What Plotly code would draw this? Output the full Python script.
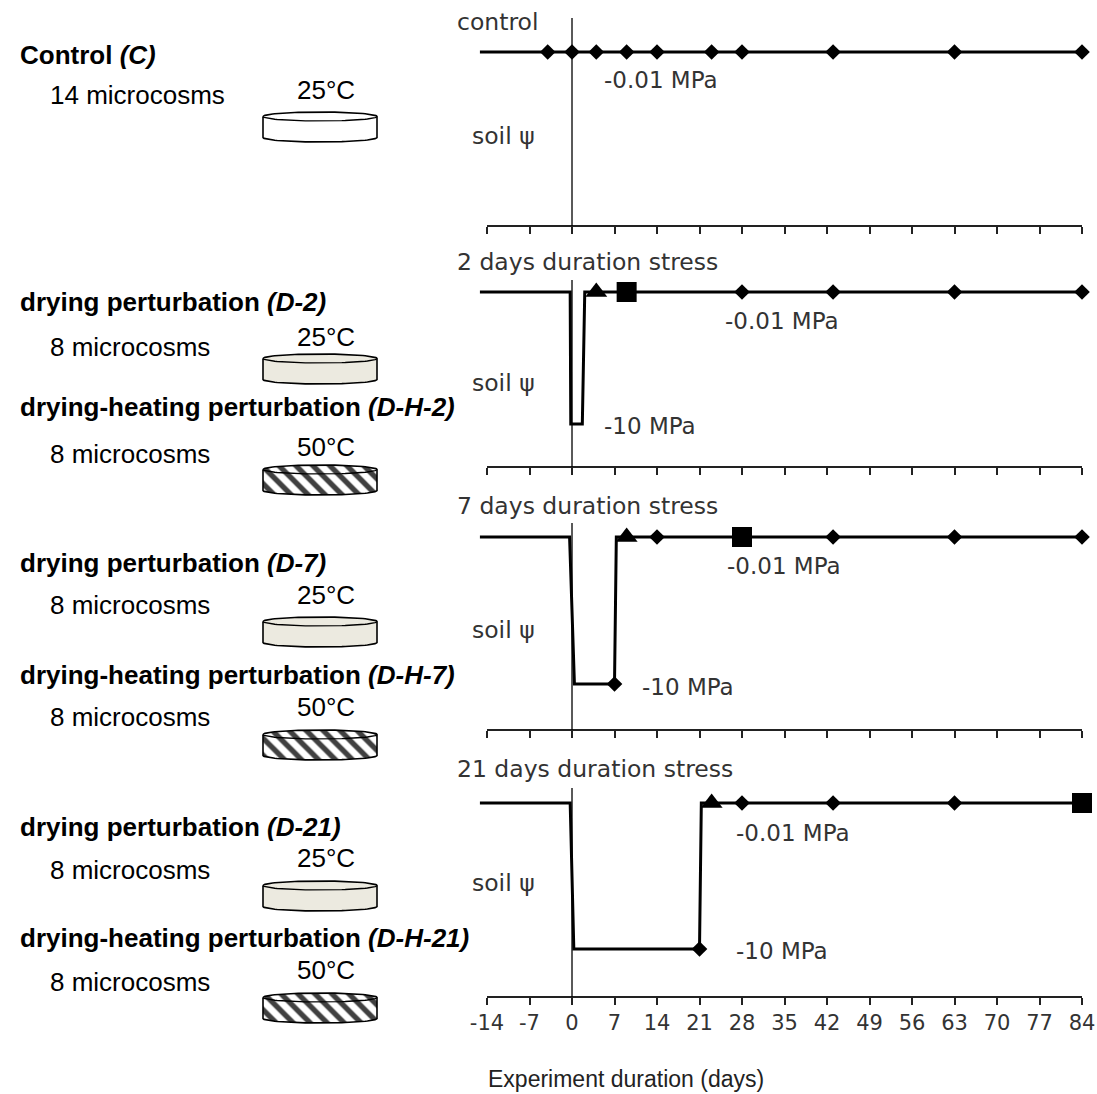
import math
import plotly.graph_objects as go

W, H = 1097, 1094

# ------------------------------------------------------------------ data
TICK_DAYS = [-14, -7, 0, 7, 14, 21, 28, 35, 42, 49, 56, 63, 70, 77, 84]
PSI_WET = -0.01    # MPa
PSI_DRY = -10.0    # MPa
STRESS_START = 0   # day when the stress begins
LINE_START = -15.2 # the psi line begins slightly left of the first tick

PANEL_TITLES = ["control", "2 days duration stress",
                "7 days duration stress", "21 days duration stress"]
LEVEL_LABELS = ["-0.01 MPa", "-10 MPa"]
Y_LABEL = "soil ψ"
X_TITLE = "Experiment duration (days)"

# control
C_LINE_DAYS = [-15.2, 84]
C_LINE_PSI = [-0.01, -0.01]
C_DIAMOND_DAYS = [-4, 0, 4, 9, 14, 23, 28, 43, 63, 84]
C_DIAMOND_PSI = [-0.01, -0.01, -0.01, -0.01, -0.01, -0.01, -0.01, -0.01, -0.01, -0.01]

# 2 days stress
D2_LINE_DAYS = [-15.2, -0.3, -0.2, 1.7, 2.1, 84]
D2_LINE_PSI = [-0.01, -0.01, -10, -10, -0.01, -0.01]
D2_DIAMOND_DAYS = [28, 43, 63, 84]
D2_DIAMOND_PSI = [-0.01, -0.01, -0.01, -0.01]
D2_TRIANGLE_DAYS = [4]
D2_TRIANGLE_PSI = [-0.01]
D2_SQUARE_DAYS = [9]
D2_SQUARE_PSI = [-0.01]

# 7 days stress
D7_LINE_DAYS = [-15.2, -0.4, 0.4, 7, 7.3, 84]
D7_LINE_PSI = [-0.01, -0.01, -10, -10, -0.01, -0.01]
D7_DIAMOND_DAYS = [7, 14, 43, 63, 84]
D7_DIAMOND_PSI = [-10, -0.01, -0.01, -0.01, -0.01]
D7_TRIANGLE_DAYS = [9]
D7_TRIANGLE_PSI = [-0.01]
D7_SQUARE_DAYS = [28]
D7_SQUARE_PSI = [-0.01]

# 21 days stress
D21_LINE_DAYS = [-15.2, -0.3, 0.3, 21, 21.3, 84]
D21_LINE_PSI = [-0.01, -0.01, -10, -10, -0.01, -0.01]
D21_DIAMOND_DAYS = [21, 28, 43, 63]
D21_DIAMOND_PSI = [-10, -0.01, -0.01, -0.01]
D21_TRIANGLE_DAYS = [23]
D21_TRIANGLE_PSI = [-0.01]
D21_SQUARE_DAYS = [84]
D21_SQUARE_PSI = [-0.01]

# treatments (left-hand legend)
GROUP_NAMES = ["Control", "drying perturbation", "drying-heating perturbation",
               "drying perturbation", "drying-heating perturbation",
               "drying perturbation", "drying-heating perturbation"]
GROUP_CODES = ["C", "D-2", "D-H-2", "D-7", "D-H-7", "D-21", "D-H-21"]
GROUP_MICROCOSMS = [14, 8, 8, 8, 8, 8, 8]
GROUP_TEMPS = [25, 25, 50, 25, 50, 25, 50]

# ------------------------------------------------------------------ layout constants (pixels)
RIGHT_FONT = "DejaVu Sans"
LEFT_FONT = "Liberation Sans"
TXT = "#333333"

TICK0_PX, TICKN_PX = 487, 1082          # pixel of first / last tick
PANEL_TOP_PX = [52, 292, 537, 803]      # line at -0.01 MPa
PANEL_BOT_PX = [None, 424, 684, 949]    # line at -10 MPa
PANEL_AXIS_PX = [226, 467, 730, 997]
PANEL_DTOP_PX = [18, 280, 523, 788]
TITLE_Y_PX = [22, 262, 506, 769]
SOILPSI_Y_PX = [136, 383, 630, 883]
WET_LABEL_POS = [(4.9, 28), (24.9, 29), (25.2, 29), (26.7, 30)]   # (day, px below line)
DRY_LABEL_POS = [None, (4.9, 2), (11.2, 3), (26.7, 2)]

HEAD_Y_PX = [55, 302, 407, 563, 675, 827, 938]
MICRO_Y_PX = [95, 347, 454, 605, 717, 870, 982]
TEMP_Y_PX = [90, 337, 447, 595, 707, 858, 970]
DISC_TOP_PX = [112, 354, 465, 617, 730, 881, 993]
DISC_H = 30
DISC_CX, DISC_RX, DISC_RY = 320, 57, 4.5


def pxx(x):
    return x / W


def pxy(y):
    return 1 - y / H


px_per_day = (TICKN_PX - TICK0_PX) / (TICK_DAYS[-1] - TICK_DAYS[0])
x_left_px = TICK0_PX - (TICK_DAYS[0] - LINE_START) * px_per_day
X_DOMAIN = [pxx(x_left_px), pxx(TICKN_PX)]
X_RANGE = [LINE_START, TICK_DAYS[-1]]

fig = go.Figure()

panels = [
    dict(line=(C_LINE_DAYS, C_LINE_PSI), dia=(C_DIAMOND_DAYS, C_DIAMOND_PSI), tri=None, sq=None),
    dict(line=(D2_LINE_DAYS, D2_LINE_PSI), dia=(D2_DIAMOND_DAYS, D2_DIAMOND_PSI),
         tri=(D2_TRIANGLE_DAYS, D2_TRIANGLE_PSI), sq=(D2_SQUARE_DAYS, D2_SQUARE_PSI)),
    dict(line=(D7_LINE_DAYS, D7_LINE_PSI), dia=(D7_DIAMOND_DAYS, D7_DIAMOND_PSI),
         tri=(D7_TRIANGLE_DAYS, D7_TRIANGLE_PSI), sq=(D7_SQUARE_DAYS, D7_SQUARE_PSI)),
    dict(line=(D21_LINE_DAYS, D21_LINE_PSI), dia=(D21_DIAMOND_DAYS, D21_DIAMOND_PSI),
         tri=(D21_TRIANGLE_DAYS, D21_TRIANGLE_PSI), sq=(D21_SQUARE_DAYS, D21_SQUARE_PSI)),
]

scale_ref = (PANEL_BOT_PX[1] - PANEL_TOP_PX[1]) / (PSI_WET - PSI_DRY)
annotations = []
shapes = []

for i, p in enumerate(panels):
    n = i + 1
    xa = "x" if n == 1 else f"x{n}"
    ya = "y" if n == 1 else f"y{n}"
    top, bot, ax_px, dtop = PANEL_TOP_PX[i], PANEL_BOT_PX[i], PANEL_AXIS_PX[i], PANEL_DTOP_PX[i]
    s = scale_ref if bot is None else (bot - top) / (PSI_WET - PSI_DRY)
    ymax = PSI_WET + (top - dtop) / s
    ymin = PSI_WET - (ax_px - top) / s

    fig.add_trace(go.Scatter(x=p["line"][0], y=p["line"][1], mode="lines",
                             line=dict(color="black", width=3), xaxis=xa, yaxis=ya,
                             showlegend=False, hoverinfo="skip"))
    fig.add_trace(go.Scatter(x=p["dia"][0], y=p["dia"][1], mode="markers",
                             marker=dict(symbol="diamond", size=12, color="black"),
                             xaxis=xa, yaxis=ya, showlegend=False, cliponaxis=False))
    if p["tri"]:
        fig.add_trace(go.Scatter(x=p["tri"][0], y=p["tri"][1], mode="markers",
                                 marker=dict(symbol="triangle-up", size=19, color="black"),
                                 xaxis=xa, yaxis=ya, showlegend=False, cliponaxis=False))
    if p["sq"]:
        fig.add_trace(go.Scatter(x=p["sq"][0], y=p["sq"][1], mode="markers",
                                 marker=dict(symbol="square", size=20, color="black"),
                                 xaxis=xa, yaxis=ya, showlegend=False, cliponaxis=False))

    xkey = "xaxis" if n == 1 else f"xaxis{n}"
    ykey = "yaxis" if n == 1 else f"yaxis{n}"
    fig.layout[xkey] = dict(domain=X_DOMAIN, range=X_RANGE,
                            anchor=ya, tickmode="array", tickvals=TICK_DAYS,
                            ticktext=[str(t) for t in TICK_DAYS],
                            showticklabels=(n == 4), ticks="outside", ticklen=7, tickwidth=1.5,
                            tickcolor="#222", showline=False,
                            showgrid=False, zeroline=False, automargin=False,
                            tickfont=dict(family=RIGHT_FONT, size=21, color=TXT), fixedrange=True)
    fig.layout[ykey] = dict(domain=[pxy(ax_px), pxy(dtop)], range=[ymin, ymax], anchor=xa,
                            visible=False, fixedrange=True, automargin=False)

    # time axis line from the first to the last tick
    shapes.append(dict(type="line", xref=xa, yref=f"{ya} domain", x0=TICK_DAYS[0], x1=TICK_DAYS[-1],
                       y0=0, y1=0, line=dict(color="#222", width=2)))
    # vertical line at start of stress
    shapes.append(dict(type="line", xref=xa, yref=f"{ya} domain", x0=STRESS_START, x1=STRESS_START,
                       y0=0, y1=1, line=dict(color="black", width=1.3)))

    annotations.append(dict(text=PANEL_TITLES[i], xref="paper", yref="paper", x=pxx(455),
                            y=pxy(TITLE_Y_PX[i]), xanchor="left", yanchor="middle", showarrow=False,
                            font=dict(family=RIGHT_FONT, size=23.5, color=TXT)))
    annotations.append(dict(text=Y_LABEL, xref="paper", yref="paper", x=pxx(470),
                            y=pxy(SOILPSI_Y_PX[i]), xanchor="left", yanchor="middle", showarrow=False,
                            font=dict(family=RIGHT_FONT, size=23.5, color=TXT)))
    wd, wsh = WET_LABEL_POS[i]
    annotations.append(dict(text=LEVEL_LABELS[0], xref=xa, yref=ya, x=wd, y=PSI_WET, yshift=-wsh,
                            xanchor="left", yanchor="middle", showarrow=False,
                            font=dict(family=RIGHT_FONT, size=23, color=TXT)))
    if DRY_LABEL_POS[i]:
        dd, dsh = DRY_LABEL_POS[i]
        annotations.append(dict(text=LEVEL_LABELS[1], xref=xa, yref=ya, x=dd, y=PSI_DRY, yshift=-dsh,
                                xanchor="left", yanchor="middle", showarrow=False,
                                font=dict(family=RIGHT_FONT, size=23, color=TXT)))

annotations.append(dict(text=X_TITLE, xref="paper", yref="paper", x=pxx(486), y=pxy(1079),
                        xanchor="left", yanchor="middle", showarrow=False,
                        font=dict(family=LEFT_FONT, size=23, color="#222")))

# ------------------------------------------------------------------ left legend
fig.layout["xaxis5"] = dict(domain=[0, 1], range=[0, W], anchor="y5", visible=False,
                            fixedrange=True, automargin=False)
fig.layout["yaxis5"] = dict(domain=[0, 1], range=[H, 0], anchor="x5", visible=False,
                            fixedrange=True, automargin=False)


def cylinder(top, bottom, n=48):
    ty, by = top + DISC_RY, bottom - DISC_RY
    xs, ys = [], []
    for k in range(n + 1):
        t = math.pi - math.pi * k / n
        xs.append(DISC_CX + DISC_RX * math.cos(t))
        ys.append(ty - DISC_RY * math.sin(t))
    for k in range(n + 1):
        t = math.pi * k / n
        xs.append(DISC_CX + DISC_RX * math.cos(t))
        ys.append(by + DISC_RY * math.sin(t))
    xs.append(xs[0])
    ys.append(ys[0])
    rim_x, rim_y = [], []
    for k in range(n + 1):
        t = math.pi * k / n
        rim_x.append(DISC_CX + DISC_RX * math.cos(t))
        rim_y.append(ty + DISC_RY * math.sin(t))
    return xs, ys, rim_x, rim_y


for g in range(len(GROUP_NAMES)):
    annotations.append(dict(text=f"<b>{GROUP_NAMES[g]} <i>({GROUP_CODES[g]})</i></b>",
                            xref="paper", yref="paper", x=pxx(18), y=pxy(HEAD_Y_PX[g]),
                            xanchor="left", yanchor="middle", showarrow=False,
                            font=dict(family=LEFT_FONT, size=26, color="black")))
    annotations.append(dict(text=f"{GROUP_MICROCOSMS[g]} microcosms",
                            xref="paper", yref="paper", x=pxx(48), y=pxy(MICRO_Y_PX[g]),
                            xanchor="left", yanchor="middle", showarrow=False,
                            font=dict(family=LEFT_FONT, size=26, color="black")))
    annotations.append(dict(text=f"{GROUP_TEMPS[g]}°C",
                            xref="paper", yref="paper", x=pxx(326), y=pxy(TEMP_Y_PX[g]),
                            xanchor="center", yanchor="middle", showarrow=False,
                            font=dict(family=LEFT_FONT, size=26, color="black")))
    xs, ys, rx_, ry_ = cylinder(DISC_TOP_PX[g], DISC_TOP_PX[g] + DISC_H)
    if g == 0:
        fill = dict(fillcolor="white")
    elif GROUP_TEMPS[g] == 25:
        fill = dict(fillcolor="#ECEAE0")
    else:
        fill = dict(fillcolor="white",
                    fillpattern=dict(shape="\\", fgcolor="#404040", bgcolor="white",
                                     fgopacity=1, size=12, solidity=0.45))
    fig.add_trace(go.Scatter(x=xs, y=ys, mode="lines", fill="toself",
                             line=dict(color="black", width=1.6), xaxis="x5", yaxis="y5",
                             showlegend=False, hoverinfo="skip", **fill))
    fig.add_trace(go.Scatter(x=rx_, y=ry_, mode="lines", line=dict(color="black", width=1.4),
                             xaxis="x5", yaxis="y5", showlegend=False, hoverinfo="skip"))

fig.update_layout(width=W, height=H, margin=dict(l=0, r=0, t=0, b=0, autoexpand=False),
                  paper_bgcolor="white", plot_bgcolor="rgba(0,0,0,0)",
                  annotations=annotations, shapes=shapes, showlegend=False)

fig.write_html("out.html", config={"displayModeBar": False},
               post_script="document.body.style.margin='0px';document.body.style.padding='0px';")
